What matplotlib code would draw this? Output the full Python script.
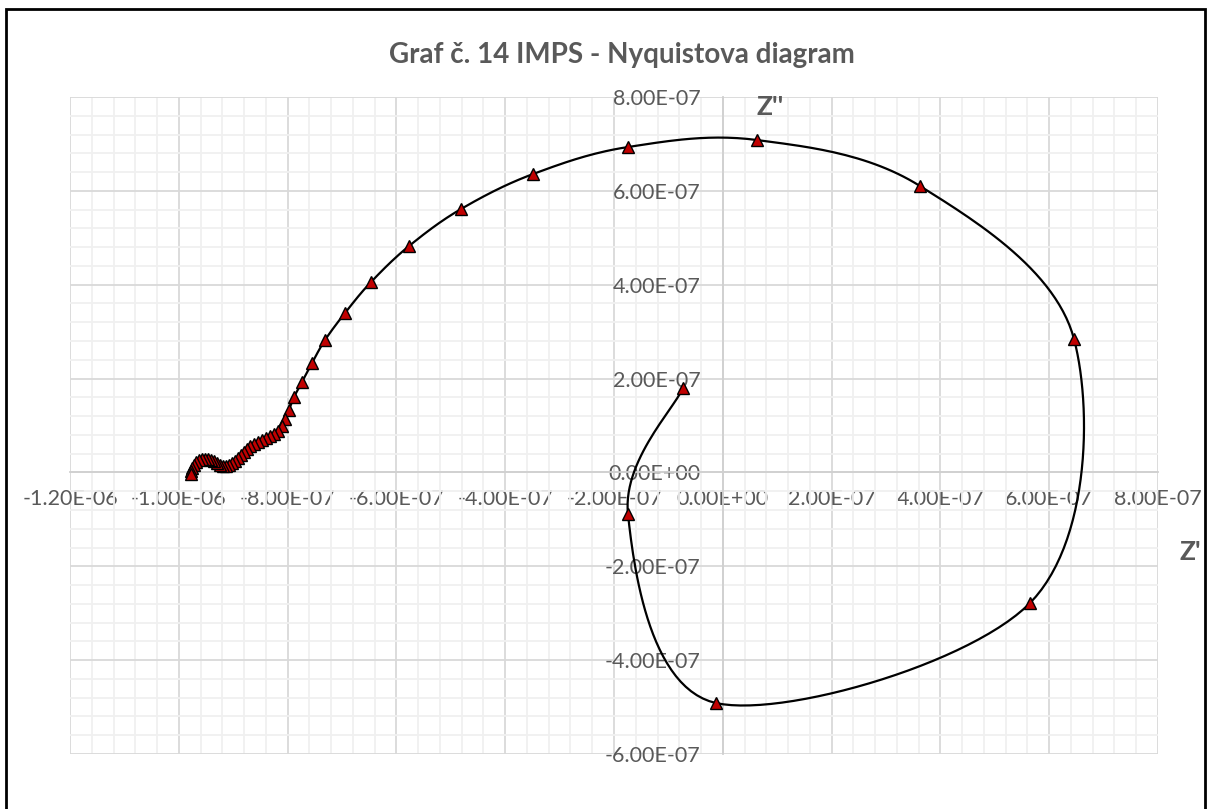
import numpy as np
import matplotlib
matplotlib.use("Agg")
import matplotlib.pyplot as plt
from matplotlib.patches import Rectangle
from matplotlib.ticker import MultipleLocator, FuncFormatter

plt.rcParams["axes.unicode_minus"] = False

# IMPS response: real part Z' and imaginary part Z''
z_real = [
    -7.32e-8, -1.743e-7, -1.25e-8, 5.647e-7, 6.456e-7, 3.625e-7, 6.29e-8,
    -1.743e-7, -3.489e-7, -4.812e-7, -5.768e-7, -6.467e-7, -6.945e-7,
    -7.312e-7, -7.551e-7, -7.735e-7, -7.882e-7, -7.974e-7, -8.048e-7,
    -8.103e-7, -8.176e-7, -8.250e-7, -8.323e-7, -8.397e-7, -8.470e-7,
    -8.544e-7, -8.618e-7, -8.691e-7, -8.746e-7, -8.801e-7, -8.856e-7,
    -8.912e-7, -8.967e-7, -9.022e-7, -9.077e-7, -9.132e-7, -9.187e-7,
    -9.243e-7, -9.298e-7, -9.353e-7, -9.408e-7, -9.463e-7, -9.518e-7,
    -9.573e-7, -9.629e-7, -9.684e-7, -9.720e-7, -9.757e-7, -9.776e-7,
    -9.776e-7,
]
z_imag = [
    1.798e-7, -8.86e-8, -4.914e-7, -2.783e-7, 2.843e-7, 6.103e-7, 7.083e-7,
    6.934e-7, 6.358e-7, 5.613e-7, 4.824e-7, 4.057e-7, 3.397e-7,
    2.821e-7, 2.331e-7, 1.926e-7, 1.607e-7, 1.330e-7, 1.138e-7,
    9.89e-8, 8.82e-8, 8.18e-8, 7.76e-8, 7.33e-8, 6.90e-8,
    6.48e-8, 6.05e-8, 5.63e-8, 4.99e-8, 4.35e-8, 3.71e-8,
    3.07e-8, 2.43e-8, 2.00e-8, 1.58e-8, 1.36e-8, 1.36e-8,
    1.58e-8, 2.00e-8, 2.43e-8, 2.64e-8, 2.86e-8, 2.86e-8,
    2.86e-8, 2.64e-8, 2.22e-8, 1.58e-8, 9.4e-9, 3.0e-9,
    -3.4e-9,
]

x_ticks = [-1.2e-6, -1.0e-6, -8e-7, -6e-7, -4e-7, -2e-7, 0.0, 2e-7, 4e-7, 6e-7, 8e-7]
y_ticks = [-6e-7, -4e-7, -2e-7, 0.0, 2e-7, 4e-7, 6e-7, 8e-7]

title = "Graf č. 14 IMPS - Nyquistova diagram"
x_title = "Z'"
y_title = "Z''"

TXT = "#595959"
FONT = "Lato"

fig = plt.figure(figsize=(12.09, 8.09), dpi=100)
fig.patch.set_facecolor("white")
ax = fig.add_axes([70 / 1209, 1 - 754 / 809, 1088 / 1209, 657 / 809])
ax.set_xlim(x_ticks[0], x_ticks[-1])
ax.set_ylim(y_ticks[0], y_ticks[-1])

# gridlines: major every 2E-07, five minor divisions
ax.set_xticks(x_ticks)
ax.set_yticks(y_ticks)
ax.xaxis.set_minor_locator(MultipleLocator(4e-8))
ax.yaxis.set_minor_locator(MultipleLocator(4e-8))
ax.grid(which="major", color="#d9d9d9", linewidth=1.3, zorder=0)
ax.grid(which="minor", color="#f0f0f0", linewidth=1.3, zorder=0)
ax.set_axisbelow(True)
ax.tick_params(which="both", length=0)

for s in ("top", "right"):
    ax.spines[s].set_visible(False)
ax.spines["left"].set_position(("data", 0))
ax.spines["bottom"].set_position(("data", 0))
for s in ("left", "bottom"):
    ax.spines[s].set_color("#d0d0d0")
    ax.spines[s].set_linewidth(1.3)


def sci_label(v, pos):
    if v == 0:
        return "0.00E+00"
    return "%.2E" % v


fmt = FuncFormatter(sci_label)
ax.xaxis.set_major_formatter(fmt)
ax.yaxis.set_major_formatter(fmt)
for lab in ax.get_xticklabels() + ax.get_yticklabels():
    lab.set_fontfamily(FONT)
    lab.set_fontsize(15.5)
    lab.set_color(TXT)
ax.tick_params(axis="x", pad=12)
ax.tick_params(axis="y", pad=16)


def smooth_curve(xs, ys, n=30):
    """Bezier smoothing through the points, computed in screen space."""
    pts = ax.transData.transform(np.column_stack([xs, ys]))
    ext = np.vstack([pts[0], pts, pts[-1]])
    out = []
    for i in range(1, len(ext) - 2):
        p0, p1, p2, p3 = ext[i - 1], ext[i], ext[i + 1], ext[i + 2]
        c1 = p1 + (p2 - p0) / 6.0
        c2 = p2 - (p3 - p1) / 6.0
        t = np.linspace(0, 1, n)[:, None]
        seg = ((1 - t) ** 3) * p1 + 3 * ((1 - t) ** 2) * t * c1 + 3 * (1 - t) * t ** 2 * c2 + t ** 3 * p2
        out.append(seg if i == 1 else seg[1:])
    curve = np.vstack(out)
    data = ax.transData.inverted().transform(curve)
    return data[:, 0], data[:, 1]


cx, cy = smooth_curve(z_real, z_imag)
ax.plot(cx, cy, color="black", linewidth=1.6, zorder=3, solid_capstyle="round")
ax.plot(z_real, z_imag, linestyle="none", marker="^", markersize=8,
        markerfacecolor="#c00000", markeredgecolor="black", markeredgewidth=1.0, zorder=4)

fig.text(622 / 1209, 1 - 55 / 809, title, ha="center", va="center",
         fontsize=20, fontweight="bold", color=TXT, family=FONT)
fig.text(770 / 1209, 1 - 107 / 809, y_title, ha="center", va="center",
         fontsize=19, fontweight="bold", color=TXT, family=FONT)
fig.text(1190 / 1209, 1 - 552 / 809, x_title, ha="center", va="center",
         fontsize=19, fontweight="bold", color=TXT, family=FONT)

# chart border
fig.add_artist(Rectangle((6 / 1209, -0.05), 1199 / 1209, 1.05 - 9 / 809,
                         transform=fig.transFigure, fill=False,
                         edgecolor="black", linewidth=2.0))

fig.savefig("out.png", dpi=100, facecolor="white")
